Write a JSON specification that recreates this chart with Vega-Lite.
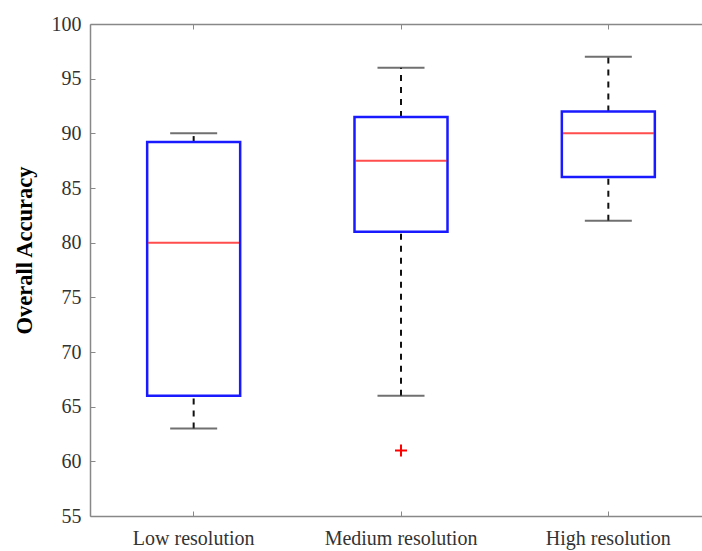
{
  "$schema": "https://vega.github.io/schema/vega-lite/v6.json",
  "autosize": "none",
  "width": 612,
  "height": 492,
  "padding": {"left": 90, "top": 24, "right": 0, "bottom": 35},
  "background": "white",
  "config": {
    "view": {"stroke": null},
    "font": "Liberation Serif",
    "axis": {"labelFont": "Liberation Serif", "titleFont": "Liberation Serif", "domainColor": "#888888", "domainWidth": 1.5, "tickColor": "#888888", "labelColor": "#333333", "grid": false}
  },
  "datasets": {
    "boxes": [
      {"group": "Low resolution", "lo": 63, "q1": 66, "med": 80, "q3": 89.2, "hi": 90},
      {"group": "Medium resolution", "lo": 66, "q1": 81, "med": 87.5, "q3": 91.5, "hi": 96},
      {"group": "High resolution", "lo": 82, "q1": 86, "med": 90, "q3": 92, "hi": 97}
    ],
    "outliers": [
      {"group": "Medium resolution", "value": 61}
    ]
  },
  "data": {"name": "boxes"},
  "resolve": {"axis": {"x": "independent"}},
  "layer": [
    {
      "layer": [
        {
          "mark": {"type": "rule", "color": "#111111", "strokeWidth": 2, "strokeDash": [6, 6]},
          "encoding": {
            "x": {"field": "group", "type": "nominal", "sort": ["Low resolution", "Medium resolution", "High resolution"],
                  "scale": {"paddingInner": 0, "paddingOuter": 0, "range": [0, 622]},
                  "axis": {"title": null, "labelAngle": 0, "labelFontSize": 20, "tickSize": -5, "labelPadding": 17, "tickWidth": 1}},
            "y": {"field": "lo", "type": "quantitative", "scale": {"domain": [55, 100], "nice": false, "zero": false},
                  "axis": {"title": "Overall Accuracy", "titleFontSize": 22.5, "titleFontWeight": "bold", "titleColor": "#000000", "titlePadding": 15, "titleY": 226,
                           "values": [55, 60, 65, 70, 75, 80, 85, 90, 95, 100], "labelFontSize": 20, "tickSize": -5, "labelPadding": 14, "tickWidth": 1}},
            "y2": {"field": "q1"}
          }
        },
        {
          "mark": {"type": "rule", "color": "#111111", "strokeWidth": 2, "strokeDash": [6, 6]},
          "encoding": {
            "x": {"field": "group", "type": "nominal", "sort": ["Low resolution", "Medium resolution", "High resolution"]},
            "y": {"field": "q3", "type": "quantitative"},
            "y2": {"field": "hi"}
          }
        },
        {
          "mark": {"type": "tick", "color": "#333333", "size": 47, "thickness": 2, "orient": "horizontal"},
          "encoding": {
            "x": {"field": "group", "type": "nominal", "sort": ["Low resolution", "Medium resolution", "High resolution"]},
            "y": {"field": "lo", "type": "quantitative"}
          }
        },
        {
          "mark": {"type": "tick", "color": "#333333", "size": 47, "thickness": 2, "orient": "horizontal"},
          "encoding": {
            "x": {"field": "group", "type": "nominal", "sort": ["Low resolution", "Medium resolution", "High resolution"]},
            "y": {"field": "hi", "type": "quantitative"}
          }
        },
        {
          "mark": {"type": "bar", "size": 93, "fill": "white", "stroke": "#1a1aff", "strokeWidth": 2.5},
          "encoding": {
            "x": {"field": "group", "type": "nominal", "sort": ["Low resolution", "Medium resolution", "High resolution"]},
            "y": {"field": "q1", "type": "quantitative"},
            "y2": {"field": "q3"}
          }
        },
        {
          "mark": {"type": "tick", "color": "#ff0000", "size": 91, "thickness": 2, "orient": "horizontal"},
          "encoding": {
            "x": {"field": "group", "type": "nominal", "sort": ["Low resolution", "Medium resolution", "High resolution"]},
            "y": {"field": "med", "type": "quantitative"}
          }
        },
        {
          "data": {"name": "outliers"},
          "mark": {"type": "point", "shape": "M-1,0L1,0M0,-1L0,1", "size": 144, "stroke": "#ff0000", "strokeWidth": 2, "filled": false, "opacity": 1},
          "encoding": {
            "x": {"field": "group", "type": "nominal", "sort": ["Low resolution", "Medium resolution", "High resolution"]},
            "y": {"field": "value", "type": "quantitative"}
          }
        }
      ]
    },
    {
      "mark": {"type": "tick", "opacity": 0, "orient": "horizontal"},
      "encoding": {
        "x": {"field": "group", "type": "nominal", "sort": ["Low resolution", "Medium resolution", "High resolution"],
              "axis": {"orient": "top", "title": null, "labels": false, "tickSize": -5, "tickWidth": 1}},
        "y": {"field": "med", "type": "quantitative"}
      }
    }
  ]
}
